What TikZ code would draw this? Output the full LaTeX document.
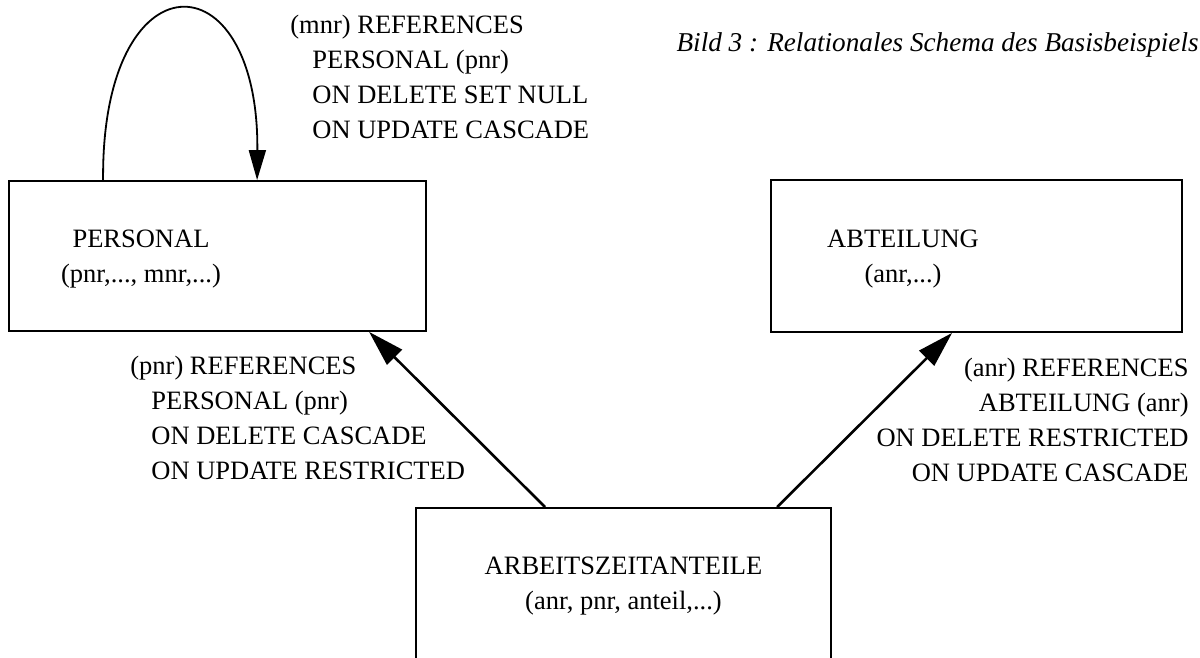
\documentclass[tikz,border=0pt]{standalone}
\usepackage{fontspec}
\setmainfont{Liberation Serif}
\usetikzlibrary{arrows.meta,calc}
\begin{document}
\begin{tikzpicture}[x=0.5pt,y=-0.5pt,
  relation/.style={draw,line width=0.9pt,inner sep=0pt,rectangle},
  txt/.style={inner sep=0pt,font=\fontsize{13.25}{17.5}\selectfont},
  fk/.style={line width=1.3pt,-{Triangle[length=18pt,width=10.5pt]}},
  selfref/.style={line width=0.9pt,-{Triangle[length=15pt,width=8.5pt]}}]
% page frame
\clip (0,0) rectangle (1200,658);
\fill[white] (0,0) rectangle (1200,658);

% relations
\node[relation,minimum width=208.5pt,minimum height=75pt] (personal) at (217.5,256) {};
\node[relation,minimum width=205.5pt,minimum height=76pt] (abteilung) at (976.5,256) {};
\node[relation,minimum width=207.5pt,minimum height=96pt] (azt) at (623.5,604) {};

% relation names and attributes
\node[txt,anchor=base] (personaltext) at (141,247)
  {\begin{tabular}[t]{@{}c@{}}PERSONAL\\(pnr,..., mnr,...)\end{tabular}};
\node[txt,anchor=base] (abteilungtext) at (903,247)
  {\begin{tabular}[t]{@{}c@{}}ABTEILUNG\\(anr,...)\end{tabular}};
\node[txt,anchor=base] (azttext) at (623.5,574)
  {\begin{tabular}[t]{@{}c@{}}ARBEITSZEITANTEILE\\(anr, pnr, anteil,...)\end{tabular}};

% caption
\node[txt,anchor=base east,font=\fontsize{13.6}{17.5}\selectfont\itshape] (caption) at (1199,52)
  {Bild 3 : Relationales Schema des Basisbeispiels};

% foreign key clauses
\node[txt,anchor=base west] (mnrref) at (290,34)
  {\begin{tabular}[t]{@{}l@{}}(mnr) REFERENCES\\\hspace*{11pt}PERSONAL (pnr)\\\hspace*{11pt}ON DELETE SET NULL\\\hspace*{11pt}ON UPDATE CASCADE\end{tabular}};
\node[txt,anchor=base west] (pnrref) at (130,374)
  {\begin{tabular}[t]{@{}l@{}}(pnr) REFERENCES\\\hspace*{10.5pt}PERSONAL (pnr)\\\hspace*{10.5pt}ON DELETE CASCADE\\\hspace*{10.5pt}ON UPDATE RESTRICTED\end{tabular}};
\node[txt,anchor=base east] (anrref) at (1189,376)
  {\begin{tabular}[t]{@{}r@{}}(anr) REFERENCES\\ABTEILUNG (anr)\\ON DELETE RESTRICTED\\ON UPDATE CASCADE\end{tabular}};

% references
\draw[selfref] ($(personal.north west)+(95,0)$)
  .. controls ($(personal.north west)+(93,-226)$) and ($(personal.north west)+(251,-226)$)
  .. ($(personal.north west)+(249,0)$);
\draw[fk] ($(azt.north west)+(130,0)$) -- ($(personal.south west)+(361,0)$);
\draw[fk] ($(azt.north west)+(362,0)$) -- ($(abteilung.south west)+(182,0)$);
\end{tikzpicture}
\end{document}
